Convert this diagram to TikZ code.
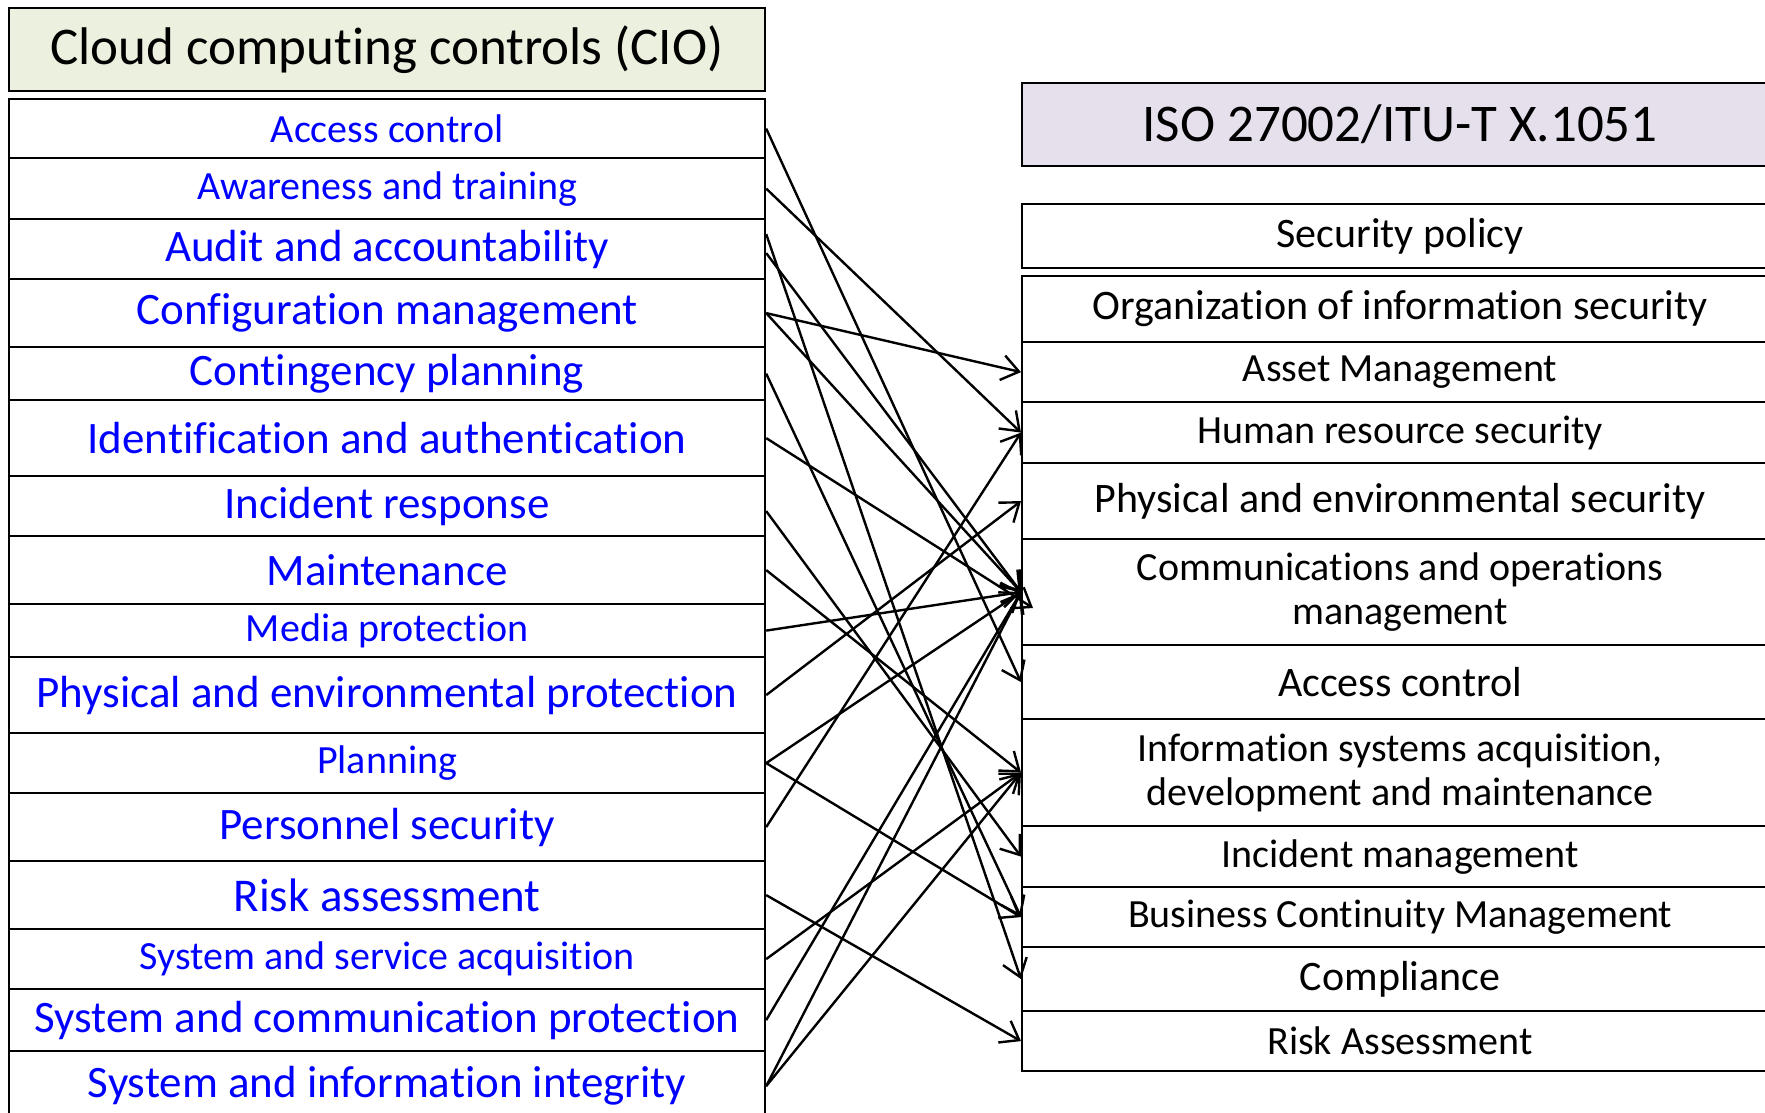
\documentclass[tikz,border=0pt]{standalone}
\usepackage{fontspec}
\setmainfont{Carlito}[Ligatures=NoCommon]
\usetikzlibrary{arrows.meta}
\definecolor{headgreen}{RGB}{235,241,222}
\definecolor{headlilac}{RGB}{229,224,236}
\definecolor{ctrlblue}{RGB}{0,0,255}

\begin{document}
\begin{tikzpicture}[
    x=1pt, y=-1pt,
    box/.style={rectangle, draw, line width=2.2pt, anchor=north west, minimum width=756pt, inner sep=0pt, align=center},
    ctrl/.style={box, text=ctrlblue, font=\fontsize{45}{50}\selectfont},
    ctrlsmall/.style={box, text=ctrlblue, font=\fontsize{40}{44}\selectfont},
    iso/.style={box, font=\fontsize{40}{44}\selectfont},
    isobig/.style={box, font=\fontsize{42}{46}\selectfont},
    head/.style={box, font=\fontsize{53}{58}\selectfont, minimum height=83pt},
    arrow/.style={-{Straight Barb[length=17pt,width=25pt]}, line width=2.4pt}
]
\useasboundingbox (0,0) rectangle (1765,1113);

% Cloud computing controls
\node[head, fill=headgreen] (ciohead) at (8,7) {Cloud computing controls (CIO)};
\node[ctrlsmall, minimum height=59pt] (acc) at (8,98) {Access control};
\node[ctrlsmall, minimum height=61pt] (aware) at (8,157) {Awareness and training};
\node[ctrl, minimum height=60pt] (audit) at (8,218) {Audit and accountability};
\node[ctrl, minimum height=68pt] (config) at (8,278) {Configuration management};
\node[ctrl, minimum height=53pt] (conting) at (8,346) {Contingency planning};
\node[ctrl, minimum height=76pt] (ident) at (8,399) {Identification and authentication};
\node[ctrl, minimum height=60pt] (incid) at (8,475) {Incident response};
\node[ctrl, minimum height=68pt] (maint) at (8,535) {Maintenance};
\node[ctrlsmall, minimum height=53pt] (media) at (8,603) {Media protection};
\node[ctrl, minimum height=76pt] (phys) at (8,656) {Physical and environmental protection};
\node[ctrlsmall, minimum height=60pt] (plan) at (8,732) {Planning};
\node[ctrl, minimum height=68pt] (pers) at (8,792) {Personnel security};
\node[ctrl, minimum height=68pt, font=\fontsize{47}{52}\selectfont] (risk) at (8,860) {Risk assessment};
\node[ctrlsmall, minimum height=60pt] (sysacq) at (8,928) {System and service acquisition};
\node[ctrl, minimum height=62pt] (syscom) at (8,988) {System and communication protection};
\node[ctrl, minimum height=70pt] (sysint) at (8,1050) {System and information integrity};

% ISO 27002 / X.1051 domains
\node[head, fill=headlilac] (isohead) at (1021,82) {ISO 27002/ITU-T X.1051};
\node[isobig, minimum height=64pt] (secpol) at (1021,203) {Security policy};
\node[isobig, minimum height=66pt] (org) at (1021,275) {Organization of information security};
\node[iso, minimum height=60pt] (asset) at (1021,341) {Asset Management};
\node[iso, minimum height=61pt] (hr) at (1021,401) {Human resource security};
\node[isobig, minimum height=76pt] (physenv) at (1021,462) {Physical and environmental security};
\node[iso, minimum height=106pt] (comm) at (1021,538) {Communications and operations\\management};
\node[isobig, minimum height=74pt] (access) at (1021,644) {Access control};
\node[iso, minimum height=107pt] (isdev) at (1021,718) {Information systems acquisition,\\development and maintenance};
\node[iso, minimum height=61pt] (incmgmt) at (1021,825) {Incident management};
\node[iso, minimum height=60pt] (bcm) at (1021,886) {Business Continuity Management};
\node[isobig, minimum height=64pt] (compl) at (1021,946) {Compliance};
\node[iso, minimum height=60pt] (riskas) at (1021,1010) {Risk Assessment};
\coordinate (identin) at (1033,608);

% Mapping arrows
\draw[arrow] (acc.east) -- (access.west);
\draw[arrow] (aware.east) -- (hr.west);
\draw[arrow] ([yshift=15pt]audit.east) -- (compl.west);
\draw[arrow] ([yshift=-4pt]audit.east) -- (comm.west);
\draw[arrow] (config.east) -- (asset.west);
\draw[arrow] (config.east) -- (comm.west);
\draw[arrow] (conting.east) -- (bcm.west);
\draw[arrow] (ident.east) -- (identin);
\draw[arrow] ([yshift=-5pt]incid.east) -- (incmgmt.west);
\draw[arrow] (maint.east) -- (isdev.west);
\draw[arrow] (media.east) -- (comm.west);
\draw[arrow] (phys.east) -- (physenv.west);
\draw[arrow] (plan.east) -- (comm.west);
\draw[arrow] (plan.east) -- (bcm.west);
\draw[arrow] (pers.east) -- (hr.west);
\draw[arrow] (risk.east) -- (riskas.west);
\draw[arrow] (sysacq.east) -- (isdev.west);
\draw[arrow] (syscom.east) -- (comm.west);
\draw[arrow] (sysint.east) -- (comm.west);
\draw[arrow] (sysint.east) -- (isdev.west);
\end{tikzpicture}
\end{document}
